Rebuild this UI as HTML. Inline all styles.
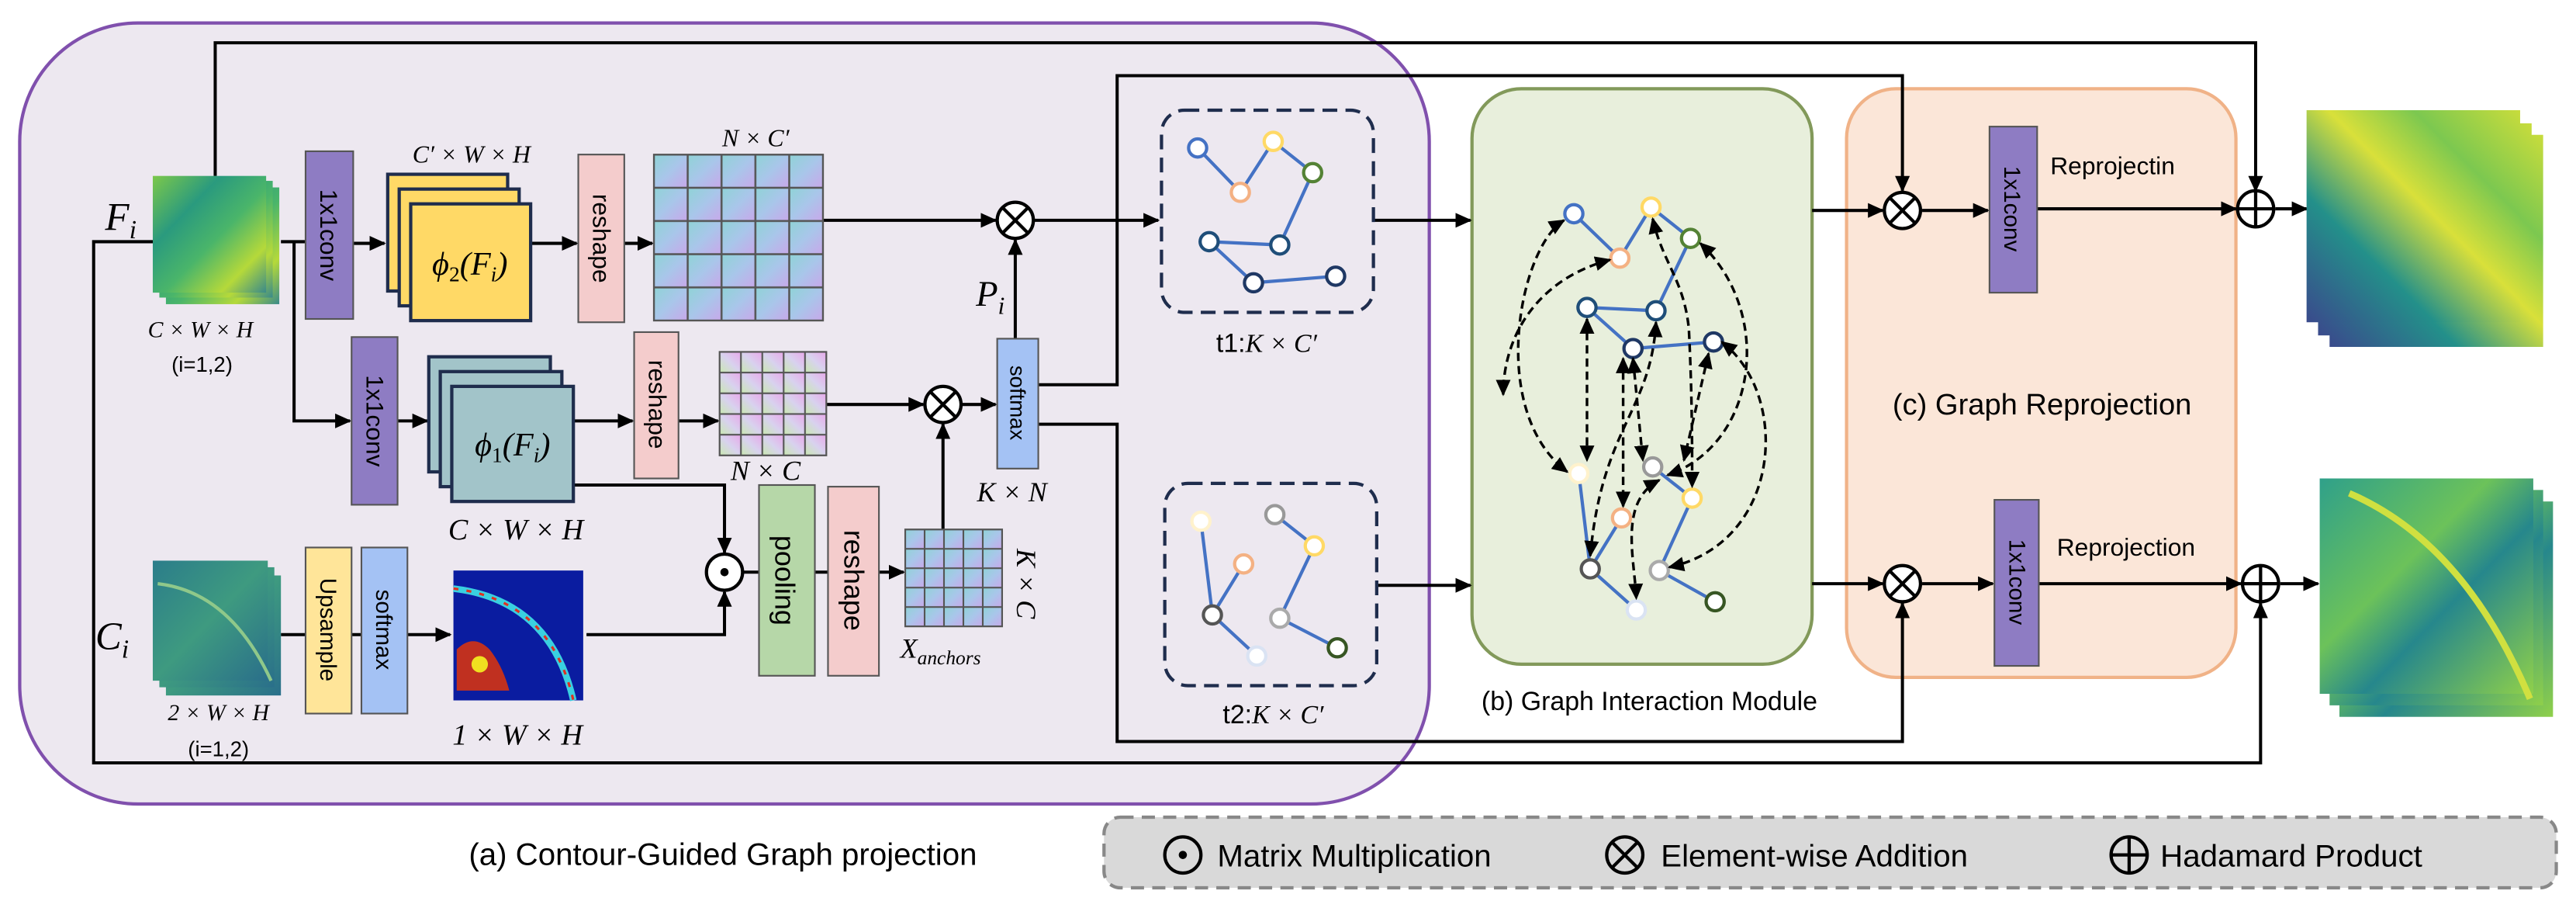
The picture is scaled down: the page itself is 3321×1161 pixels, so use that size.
<!DOCTYPE html>
<html><head><meta charset="utf-8"><style>
html,body{margin:0;padding:0;background:#fff;}
svg{display:block;}
text{font-family:"Liberation Sans",sans-serif;}
.m{font-family:"Liberation Serif",serif;font-style:italic;}
</style></head><body>
<svg width="3321" height="1161" viewBox="0 0 1568 548" preserveAspectRatio="none" xmlns="http://www.w3.org/2000/svg">
<defs>
<marker id="a" markerUnits="userSpaceOnUse" markerWidth="10" markerHeight="10" refX="9" refY="5" orient="auto-start-reverse"><path d="M0,0.5 L10,5 L0,9.5z" fill="#000"/></marker>
<linearGradient id="c1" x1="0" y1="0" x2="1" y2="1"><stop offset="0" stop-color="#8fd3d6"/><stop offset="0.5" stop-color="#a9c6ea"/><stop offset="1" stop-color="#c8a8ea"/></linearGradient>
<linearGradient id="c2" x1="0" y1="1" x2="1" y2="0"><stop offset="0" stop-color="#c9e8b0"/><stop offset="0.5" stop-color="#d8d2ee"/><stop offset="1" stop-color="#e8a8ea"/></linearGradient>
<pattern id="g1" patternUnits="userSpaceOnUse" x="398" y="94" width="20.6" height="20.2"><rect width="20.6" height="20.2" fill="url(#c1)" stroke="#555" stroke-width="1.2"/></pattern>
<pattern id="g2" patternUnits="userSpaceOnUse" x="438" y="214" width="13" height="12.6"><rect width="13" height="12.6" fill="url(#c2)" stroke="#555" stroke-width="1"/></pattern>
<pattern id="g3" patternUnits="userSpaceOnUse" x="551" y="322" width="11.8" height="11.8"><rect width="11.8" height="11.8" fill="url(#c1)" stroke="#555" stroke-width="1"/></pattern>
<linearGradient id="v1" x1="0" y1="0" x2="1" y2="1"><stop offset="0" stop-color="#7cc84a"/><stop offset="0.3" stop-color="#2a9a7e"/><stop offset="0.55" stop-color="#4ab56a"/><stop offset="0.8" stop-color="#b5d93a"/><stop offset="1" stop-color="#3a8a8a"/></linearGradient>
<linearGradient id="v2" x1="0" y1="0" x2="1" y2="1"><stop offset="0" stop-color="#2b7d8a"/><stop offset="0.5" stop-color="#3e9a80"/><stop offset="1" stop-color="#2a6f8a"/></linearGradient>
<linearGradient id="v3" x1="0" y1="1" x2="1" y2="0"><stop offset="0" stop-color="#3a4a8c"/><stop offset="0.3" stop-color="#23908a"/><stop offset="0.55" stop-color="#d9e03a"/><stop offset="0.75" stop-color="#7cc850"/><stop offset="1" stop-color="#c8dc3c"/></linearGradient>
<linearGradient id="v4" x1="0" y1="0" x2="1" y2="1"><stop offset="0" stop-color="#2fa08a"/><stop offset="0.4" stop-color="#6cc25a"/><stop offset="0.6" stop-color="#26878c"/><stop offset="1" stop-color="#8fd04a"/></linearGradient>
</defs>

<rect x="12" y="14" width="858" height="475" rx="72" fill="#ede8f0" stroke="#8050ad" stroke-width="2"/>
<rect x="896" y="54" width="207" height="350" rx="30" fill="#e8efdc" stroke="#82995a" stroke-width="2"/>
<rect x="1124" y="54" width="237" height="358" rx="30" fill="#fbe6d8" stroke="#f0b287" stroke-width="2"/>
<rect x="672" y="497" width="884" height="43" rx="10" fill="#d9d9d9" stroke="#888" stroke-width="2" stroke-dasharray="8,5"/>

<g fill="none" stroke="#000" stroke-width="1.9">
<polyline points="131,107 131,26 1373,26 1373,116" marker-end="url(#a)"/>
<polyline points="94,147 57,147 57,464 1376,464 1376,367" marker-end="url(#a)"/>
<polyline points="632,234 680,234 680,46 1158,46 1158,116" marker-end="url(#a)"/>
<polyline points="632,258 680,258 680,451 1158,451 1158,367" marker-end="url(#a)"/>
<line x1="171" y1="147" x2="186" y2="147"/>
<polyline points="179,147 179,256 213,256" marker-end="url(#a)"/>
<line x1="215" y1="148" x2="234" y2="148" marker-end="url(#a)"/>
<line x1="323" y1="148" x2="351" y2="148" marker-end="url(#a)"/>
<line x1="380" y1="148" x2="397" y2="148" marker-end="url(#a)"/>
<line x1="501" y1="134" x2="606" y2="134" marker-end="url(#a)"/>
<line x1="629" y1="134" x2="705" y2="134" marker-end="url(#a)"/>
<line x1="618" y1="206" x2="618" y2="146" marker-end="url(#a)"/>
<line x1="242" y1="256" x2="260" y2="256" marker-end="url(#a)"/>
<line x1="349" y1="256" x2="385" y2="256" marker-end="url(#a)"/>
<line x1="413" y1="256" x2="437" y2="256" marker-end="url(#a)"/>
<line x1="503" y1="246" x2="562" y2="246" marker-end="url(#a)"/>
<line x1="585" y1="246" x2="606" y2="246" marker-end="url(#a)"/>
<line x1="574" y1="322" x2="574" y2="258" marker-end="url(#a)"/>
<polyline points="349,295 441,295 441,336" marker-end="url(#a)"/>
<line x1="171" y1="386" x2="274" y2="386" marker-end="url(#a)"/>
<polyline points="357,386 441,386 441,360" marker-end="url(#a)"/>
<line x1="452" y1="348" x2="462" y2="348"/>
<line x1="496" y1="348" x2="504" y2="348"/>
<line x1="535" y1="348" x2="550" y2="348" marker-end="url(#a)"/>
<line x1="836" y1="134" x2="895" y2="134" marker-end="url(#a)"/>
<line x1="838" y1="356" x2="895" y2="356" marker-end="url(#a)"/>
<line x1="1103" y1="128" x2="1146" y2="128" marker-end="url(#a)"/>
<line x1="1170" y1="128" x2="1210" y2="128" marker-end="url(#a)"/>
<line x1="1240" y1="127" x2="1361" y2="127" marker-end="url(#a)"/>
<line x1="1385" y1="127" x2="1404" y2="127" marker-end="url(#a)"/>
<line x1="1103" y1="355" x2="1146" y2="355" marker-end="url(#a)"/>
<line x1="1170" y1="355" x2="1213" y2="355" marker-end="url(#a)"/>
<line x1="1241" y1="355" x2="1364" y2="355" marker-end="url(#a)"/>
<line x1="1388" y1="355" x2="1411" y2="355" marker-end="url(#a)"/>
</g>

<rect x="101" y="114" width="69" height="71" fill="url(#v1)"/>
<rect x="97" y="110" width="69" height="71" fill="url(#v1)"/>
<rect x="93" y="107" width="69" height="71" fill="url(#v1)"/>
<rect x="101" y="350" width="70" height="73" fill="url(#v2)"/>
<rect x="97" y="345" width="70" height="73" fill="url(#v2)"/>
<rect x="93" y="341" width="70" height="73" fill="url(#v2)"/>
<path d="M96,355 Q140,360 165,414" stroke="#8fc88a" stroke-width="2" fill="none"/>
<rect x="276" y="347" width="79" height="79" fill="#0a1ca0"/>
<path d="M276,358 Q335,365 349,426" stroke="#3ad0e0" stroke-width="4" fill="none"/>
<path d="M276,358 Q335,365 349,426" stroke="#e03020" stroke-width="1.5" stroke-dasharray="3,5" fill="none"/>
<path d="M278,395 q10,-10 20,0 q8,10 12,25 l-32,0z" fill="#c03020"/>
<circle cx="292" cy="404" r="5" fill="#f0e020"/>

<g stroke="#555" stroke-width="1">
<rect x="186" y="92" width="29" height="102" fill="#8e7cc3"/>
<rect x="214" y="205" width="28" height="102" fill="#8e7cc3"/>
<rect x="352" y="94" width="28" height="102" fill="#f4cccc"/>
<rect x="386" y="202" width="27" height="89" fill="#f4cccc"/>
<rect x="504" y="296" width="31" height="115" fill="#f4cccc"/>
<rect x="462" y="295" width="34" height="116" fill="#b6d7a8"/>
<rect x="186" y="333" width="28" height="101" fill="#ffe599"/>
<rect x="220" y="333" width="28" height="101" fill="#a4c2f4"/>
<rect x="607" y="206" width="25" height="79" fill="#a4c2f4"/>
<rect x="1211" y="77" width="29" height="101" fill="#8e7cc3"/>
<rect x="1214" y="304" width="27" height="101" fill="#8e7cc3"/>
</g>
<g stroke="#1f2d4d" stroke-width="2">
<rect x="236" y="106" width="73" height="71" fill="#ffd966"/>
<rect x="243" y="115" width="73" height="71" fill="#ffd966"/>
<rect x="250" y="124" width="73" height="71" fill="#ffd966"/>
<rect x="261" y="217" width="74" height="70" fill="#a2c4c9"/>
<rect x="268" y="226" width="74" height="70" fill="#a2c4c9"/>
<rect x="275" y="235" width="74" height="70" fill="#a2c4c9"/>
</g>
<rect x="398" y="94" width="103" height="101" fill="url(#g1)" stroke="#555"/>
<rect x="438" y="214" width="65" height="63" fill="url(#g2)" stroke="#555"/>
<rect x="551" y="322" width="59" height="59" fill="url(#g3)" stroke="#555"/>

<g font-size="15" fill="#000">
<text transform="translate(195,143) rotate(90)" text-anchor="middle">1x1conv</text>
<text transform="translate(223,256) rotate(90)" text-anchor="middle">1x1conv</text>
<text transform="translate(361,145) rotate(90)" text-anchor="middle">reshape</text>
<text transform="translate(395,246) rotate(90)" text-anchor="middle">reshape</text>
<text transform="translate(195,383) rotate(90)" text-anchor="middle" font-size="14">Upsample</text>
<text transform="translate(229,383) rotate(90)" text-anchor="middle" font-size="14">softmax</text>
<text transform="translate(615,245) rotate(90)" text-anchor="middle" font-size="13">softmax</text>
<text transform="translate(472,353) rotate(90)" text-anchor="middle" font-size="17">pooling</text>
<text transform="translate(514,353) rotate(90)" text-anchor="middle" font-size="17">reshape</text>
<text transform="translate(1220,127) rotate(90)" text-anchor="middle" font-size="14">1x1conv</text>
<text transform="translate(1223,354) rotate(90)" text-anchor="middle" font-size="14">1x1conv</text>
</g>

<g fill="#fff" stroke="#000" stroke-width="2">
<circle cx="618" cy="134" r="11"/><circle cx="574" cy="246" r="11"/>
<circle cx="441" cy="348" r="11"/>
<circle cx="1158" cy="128" r="11"/><circle cx="1158" cy="355" r="11"/>
<circle cx="1373" cy="127" r="11"/><circle cx="1376" cy="355" r="11"/>
<circle cx="720" cy="520" r="11" fill="none"/><circle cx="989" cy="520" r="11" fill="none"/><circle cx="1296" cy="520" r="11" fill="none"/>
</g>
<g stroke="#000" stroke-width="2">
<path d="M610,126 l16,16 M626,126 l-16,16"/>
<path d="M566,238 l16,16 M582,238 l-16,16"/>
<path d="M1150,120 l16,16 M1166,120 l-16,16"/>
<path d="M1150,347 l16,16 M1166,347 l-16,16"/>
<path d="M981,512 l16,16 M997,512 l-16,16"/>
<path d="M1362,127 h22 M1373,116 v22"/>
<path d="M1365,355 h22 M1376,344 v22"/>
<path d="M1285,520 h22 M1296,509 v22"/>
</g>
<circle cx="441" cy="348" r="2.5"/><circle cx="720" cy="520" r="2.5"/>

<rect x="1418" y="82" width="130" height="129" fill="url(#v3)"/>
<rect x="1411" y="75" width="130" height="129" fill="url(#v3)"/>
<rect x="1404" y="67" width="130" height="129" fill="url(#v3)"/>
<rect x="1424" y="305" width="130" height="131" fill="url(#v4)"/>
<rect x="1418" y="298" width="130" height="131" fill="url(#v4)"/>
<rect x="1412" y="291" width="130" height="131" fill="url(#v4)"/>
<path d="M1430,300 Q1500,330 1540,425" stroke="#d0e040" stroke-width="4" fill="none"/>

<rect x="707" y="67" width="129" height="123" rx="14" fill="none" stroke="#1f2d4d" stroke-width="2" stroke-dasharray="9,5"/>
<rect x="709" y="294" width="129" height="123" rx="14" fill="none" stroke="#1f2d4d" stroke-width="2" stroke-dasharray="9,5"/>

<g stroke="#4472c4" stroke-width="2" fill="none">
<path d="M729,90 L755,117 L775,86 L799,105 L779,149 L736,147 L763,172 L813,168"/>
<path d="M731,317 L738,374 L765,399 M757,343 L738,374 M776,313 L800,332 L779,376 L814,394"/>
<path d="M958,130 L986,157 L1005,126 L1029,145 L1008,189 L966,187 L994,212 L1043,208"/>
<path d="M961,288 L968,346 L996,371 M987,315 L968,346 M1006,284 L1030,303 L1010,347 L1044,366"/>
</g>
<g stroke-width="2" fill="#fff">
<circle cx="729" cy="90" r="5.5" stroke="#4472c4"/><circle cx="775" cy="86" r="5.5" stroke="#ffd966"/><circle cx="755" cy="117" r="5.5" stroke="#f4b183"/><circle cx="799" cy="105" r="5.5" stroke="#548235"/><circle cx="736" cy="147" r="5.5" stroke="#1f4e79"/><circle cx="779" cy="149" r="5.5" stroke="#1f4e79"/><circle cx="763" cy="172" r="5.5" stroke="#1f3864"/><circle cx="813" cy="168" r="5.5" stroke="#1f3864"/>
<circle cx="731" cy="317" r="5.5" stroke="#fff2cc"/><circle cx="776" cy="313" r="5.5" stroke="#999"/><circle cx="757" cy="343" r="5.5" stroke="#f4b183"/><circle cx="800" cy="332" r="5.5" stroke="#ffd966"/><circle cx="738" cy="374" r="5.5" stroke="#555"/><circle cx="779" cy="376" r="5.5" stroke="#aaa"/><circle cx="765" cy="399" r="5.5" stroke="#dae3f3"/><circle cx="814" cy="394" r="5.5" stroke="#375623"/>
<circle cx="958" cy="130" r="5.5" stroke="#4472c4"/><circle cx="1005" cy="126" r="5.5" stroke="#ffd966"/><circle cx="986" cy="157" r="5.5" stroke="#f4b183"/><circle cx="1029" cy="145" r="5.5" stroke="#548235"/><circle cx="966" cy="187" r="5.5" stroke="#1f4e79"/><circle cx="1008" cy="189" r="5.5" stroke="#1f4e79"/><circle cx="994" cy="212" r="5.5" stroke="#1f3864"/><circle cx="1043" cy="208" r="5.5" stroke="#1f3864"/>
<circle cx="961" cy="288" r="5.5" stroke="#fff2cc"/><circle cx="1006" cy="284" r="5.5" stroke="#999"/><circle cx="987" cy="315" r="5.5" stroke="#f4b183"/><circle cx="1030" cy="303" r="5.5" stroke="#ffd966"/><circle cx="968" cy="346" r="5.5" stroke="#555"/><circle cx="1010" cy="347" r="5.5" stroke="#aaa"/><circle cx="996" cy="371" r="5.5" stroke="#dae3f3"/><circle cx="1044" cy="366" r="5.5" stroke="#375623"/>
</g>
<g stroke="#000" stroke-width="1.6" stroke-dasharray="5,3" fill="none" marker-start="url(#a)" marker-end="url(#a)">
<path d="M952,134 C925,150 905,250 954,287"/>
<path d="M980,158 C935,170 915,205 915,240"/>
<line x1="966" y1="194" x2="966" y2="280"/>
<line x1="988" y1="218" x2="988" y2="308"/>
<line x1="994" y1="218" x2="1000" y2="280"/>
<path d="M1008,196 C1005,250 975,260 968,338"/>
<path d="M1006,133 C1012,160 1025,170 1028,200 C1030,240 1030,270 1030,296"/>
<line x1="1040" y1="215" x2="1025" y2="280"/>
<path d="M1035,148 C1080,190 1070,270 1015,289"/>
<path d="M1048,208 C1090,240 1085,330 1016,345"/>
<path d="M1010,292 C985,305 995,340 996,364"/>
</g>

<g fill="#000">
<text x="64" y="140" class="m" font-size="24">F<tspan font-size="16" dy="5">i</tspan></text>
<text x="58" y="395" class="m" font-size="24">C<tspan font-size="16" dy="5">i</tspan></text>
<text x="122" y="205" class="m" font-size="14" text-anchor="middle">C × W × H</text>
<text x="123" y="226" font-size="13" text-anchor="middle">(i=1,2)</text>
<text x="133" y="438" class="m" font-size="14" text-anchor="middle">2 × W × H</text>
<text x="133" y="460" font-size="13" text-anchor="middle">(i=1,2)</text>
<text x="287" y="99" class="m" font-size="15" text-anchor="middle">C′ × W × H</text>
<text x="460" y="89" class="m" font-size="15" text-anchor="middle">N × C′</text>
<text x="286" y="167" class="m" font-size="20" text-anchor="middle">ϕ<tspan font-size="13" dy="4" font-style="normal">2</tspan><tspan dy="-4">(F</tspan><tspan font-size="13" dy="4">i</tspan><tspan dy="-4">)</tspan></text>
<text x="312" y="277" class="m" font-size="20" text-anchor="middle">ϕ<tspan font-size="13" dy="4" font-style="normal">1</tspan><tspan dy="-4">(F</tspan><tspan font-size="13" dy="4">i</tspan><tspan dy="-4">)</tspan></text>
<text x="314" y="328" class="m" font-size="18" text-anchor="middle">C × W × H</text>
<text x="466" y="292" class="m" font-size="17" text-anchor="middle">N × C</text>
<text x="315" y="453" class="m" font-size="18" text-anchor="middle">1 × W × H</text>
<text x="594" y="186" class="m" font-size="22">P<tspan font-size="15" dy="5">i</tspan></text>
<text x="616" y="305" class="m" font-size="17" text-anchor="middle">K × N</text>
<text transform="translate(619,355) rotate(90)" class="m" font-size="17" text-anchor="middle">K × C</text>
<text x="548" y="400" class="m" font-size="17">X<tspan font-size="12" dy="4">anchors</tspan></text>
<text x="771" y="214" font-size="16" text-anchor="middle">t1:<tspan class="m">K × C′</tspan></text>
<text x="775" y="440" font-size="16" text-anchor="middle">t2:<tspan class="m">K × C′</tspan></text>
<text x="1004" y="432" font-size="16" text-anchor="middle">(b) Graph Interaction Module</text>
<text x="1243" y="252" font-size="18" text-anchor="middle">(c) Graph Reprojection</text>
<text x="1248" y="106" font-size="15">Reprojectin</text>
<text x="1252" y="338" font-size="15">Reprojection</text>
<text x="440" y="526" font-size="19" text-anchor="middle">(a) Contour-Guided Graph projection</text>
<text x="741" y="527" font-size="19">Matrix Multiplication</text>
<text x="1011" y="527" font-size="19">Element-wise Addition</text>
<text x="1315" y="527" font-size="19">Hadamard Product</text>
</g>
</svg>
</body></html>
